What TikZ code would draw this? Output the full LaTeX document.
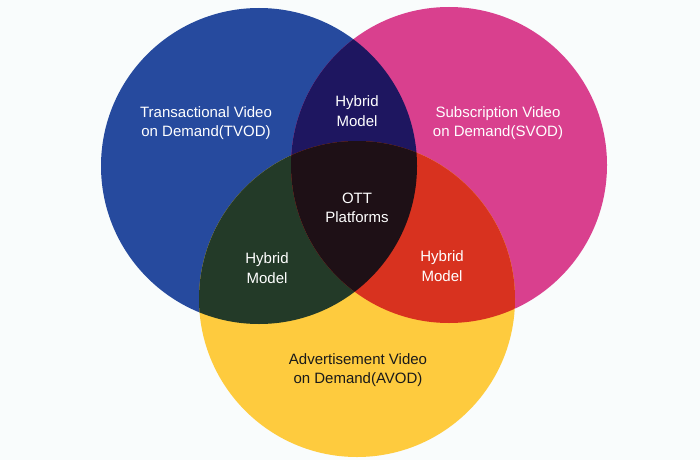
\documentclass[tikz,border=0pt]{standalone}
\usepackage{fontspec}
\setmainfont{Liberation Sans}
\usepackage{tikz}
\usetikzlibrary{positioning}
\definecolor{bgwhite}{HTML}{F9FCFC}
\definecolor{tvodblue}{HTML}{264A9E}
\definecolor{svodpink}{HTML}{D9408E}
\definecolor{avodyellow}{HTML}{FECB3E}
\definecolor{tsnavy}{HTML}{1E1660}
\definecolor{tagreen}{HTML}{233A28}
\definecolor{sared}{HTML}{D8321F}
\definecolor{ottdark}{HTML}{1E1016}
\definecolor{ink1}{HTML}{1A1A1A}

\begin{document}
\begin{tikzpicture}[
  x=1pt, y=-1pt,
  lbl/.style={font=\fontsize{15}{19.5}\selectfont, text=white, align=center,
              inner sep=0pt},
  lblD/.style={lbl, text=ink1}
]
\def\R{158pt}
\fill[bgwhite] (0,0) rectangle (700,460);
\useasboundingbox (0,0) rectangle (700,460);
\coordinate (tvod) at (259,166);
\coordinate (svod) at (449,165);
\coordinate (avod) at (357,299);

% ===== base circles =====
\fill[tvodblue] (tvod) circle[radius=\R];
\fill[svodpink] (svod) circle[radius=\R];
\fill[avodyellow] (avod) circle[radius=\R];

% ===== overlaps =====
\begin{scope}
  \clip (tvod) circle[radius=\R];
  \fill[tsnavy] (svod) circle[radius=\R];
  \fill[tagreen] (avod) circle[radius=\R];
\end{scope}
\begin{scope}
  \clip (svod) circle[radius=\R];
  \fill[sared] (avod) circle[radius=\R];
  \clip (tvod) circle[radius=\R];
  \fill[ottdark] (avod) circle[radius=\R];
\end{scope}

% ===== labels =====
\node[lbl] (tvodtxt) at (206,123) {Transactional Video\\on Demand(TVOD)};
\node[lbl] (svodtxt) at (498,123) {Subscription Video\\on Demand(SVOD)};
\node[lblD] (avodtxt) at (358,370) {Advertisement Video\\on Demand(AVOD)};
\node[lbl] (hybts) at (357,111) {Hybrid\\Model};
\node[lbl] (hybta) at (267,268) {Hybrid\\Model};
\node[lbl] (hybsa) at (442,266) {Hybrid\\Model};
\node[lbl] (ott) at (357,208) {OTT\\Platforms};
\end{tikzpicture}
\end{document}
